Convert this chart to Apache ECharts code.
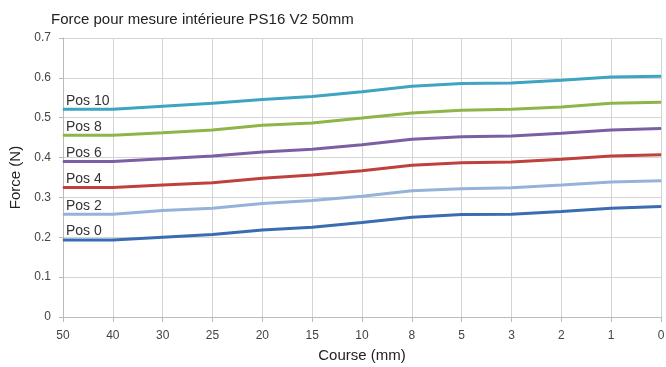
<!DOCTYPE html>
<html>
<head>
<meta charset="utf-8">
<script src="https://cdn.jsdelivr.net/npm/echarts@6/dist/echarts.min.js"></script>
<style>html,body{margin:0;padding:0;background:#fff}#c{width:666px;height:367px}</style>
</head>
<body>
<div id="c"></div>
<script>
var courses = ['50','40','30','25','20','15','10','8','5','3','2','1','0'];
var seriesNames = ['Pos 0','Pos 2','Pos 4','Pos 6','Pos 8','Pos 10'];
var pos0  = [0.193,0.193,0.200,0.207,0.218,0.225,0.237,0.250,0.257,0.258,0.265,0.273,0.277];
var pos2  = [0.258,0.258,0.267,0.273,0.285,0.292,0.303,0.317,0.322,0.324,0.331,0.339,0.342];
var pos4  = [0.325,0.325,0.331,0.337,0.348,0.356,0.367,0.381,0.387,0.389,0.396,0.404,0.407];
var pos6  = [0.390,0.390,0.397,0.404,0.414,0.421,0.432,0.446,0.452,0.454,0.461,0.469,0.473];
var pos8  = [0.456,0.456,0.462,0.469,0.481,0.487,0.499,0.512,0.519,0.521,0.527,0.536,0.539];
var pos10 = [0.521,0.521,0.529,0.536,0.546,0.553,0.565,0.579,0.586,0.587,0.594,0.602,0.604];
var allValues = [pos0,pos2,pos4,pos6,pos8,pos10];
var colors = ['#3a6cb2','#95b3d9','#bf413e','#7b5ea3','#8fb548','#3ea4c2'];

var chart = echarts.init(document.getElementById('c'));
var series = allValues.map(function(vals, i){
  return {
    name: seriesNames[i],
    type: 'line',
    data: vals.map(function(v, j){
      if (j === 0) {
        return {value: v, label: {show: true, formatter: seriesNames[i], position: 'top', align: 'left', offset: [3, 0], distance: 1}};
      }
      return v;
    }),
    symbol: 'circle',
    symbolSize: 1,
    showSymbol: true,
    itemStyle: {color: colors[i]},
    lineStyle: {width: 3, color: colors[i]},
    label: {color: '#333', fontSize: 14, fontFamily: 'Liberation Sans'},
    emphasis: {disabled: true},
    silent: true
  };
});

chart.setOption({
  animation: false,
  textStyle: {fontFamily: 'Liberation Sans'},
  title: {
    text: 'Force pour mesure intérieure PS16 V2 50mm',
    left: 46, top: 7,
    textStyle: {fontSize: 15, fontWeight: 'normal', color: '#222', fontFamily: 'Liberation Sans'}
  },
  grid: {left: 63, right: 5, top: 38, bottom: 50, containLabel: false, outerBoundsMode: 'none'},
  xAxis: {
    type: 'category',
    data: courses,
    boundaryGap: false,
    name: 'Course (mm)',
    nameLocation: 'middle',
    nameGap: 31,
    nameTextStyle: {fontSize: 15, color: '#222'},
    axisLine: {lineStyle: {color: '#bbb'}},
    axisTick: {show: true, length: 5, lineStyle: {color: '#bbb'}},
    axisLabel: {fontSize: 12, color: '#444', margin: 13},
    splitLine: {show: true, lineStyle: {color: '#d4d4d4'}}
  },
  yAxis: {
    type: 'value',
    min: 0, max: 0.7, interval: 0.1,
    name: 'Force (N)',
    nameLocation: 'middle',
    nameGap: 38,
    nameRotate: 90,
    nameTextStyle: {fontSize: 15, color: '#222'},
    axisLine: {show: true, lineStyle: {color: '#bbb'}},
    axisTick: {show: true, length: 4, lineStyle: {color: '#bbb'}},
    axisLabel: {fontSize: 12, color: '#444', margin: 12},
    splitLine: {show: true, lineStyle: {color: '#d4d4d4'}}
  },
  series: series
});
</script>
</body>
</html>
